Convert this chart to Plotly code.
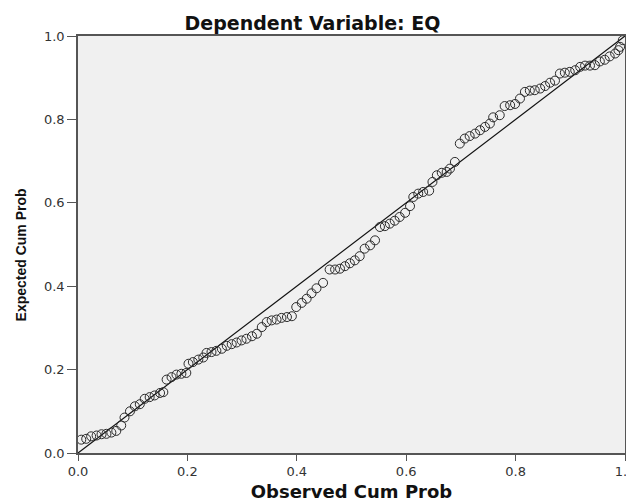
import plotly.graph_objects as go

# Observed cumulative probability (x) and expected cumulative probability (y)
observed_cum_prob = [
    0.006, 0.015, 0.024, 0.034, 0.043, 0.052, 0.061, 0.070, 0.079, 0.085,
    0.095, 0.104, 0.113, 0.122, 0.131, 0.140, 0.150, 0.156, 0.162, 0.171,
    0.180, 0.189, 0.198, 0.202, 0.210, 0.220, 0.229, 0.235, 0.244, 0.253,
    0.263, 0.272, 0.281, 0.290, 0.299, 0.308, 0.318, 0.327, 0.336, 0.345,
    0.354, 0.363, 0.372, 0.382, 0.391,
    0.399, 0.409, 0.418, 0.427, 0.436, 0.448, 0.460, 0.470, 0.479, 0.488,
    0.497, 0.506, 0.515, 0.524, 0.534, 0.543, 0.552, 0.561, 0.570, 0.579,
    0.588, 0.598, 0.607, 0.613, 0.622, 0.631, 0.642, 0.648, 0.656, 0.665,
    0.674, 0.680, 0.689,
    0.698, 0.707, 0.716, 0.726, 0.735, 0.744, 0.753, 0.759, 0.771, 0.780,
    0.790, 0.799, 0.808, 0.817, 0.826, 0.835, 0.845, 0.854, 0.863, 0.872,
    0.881, 0.890, 0.899, 0.909, 0.918, 0.927, 0.936, 0.945, 0.954, 0.963,
    0.972, 0.982, 0.988, 0.991, 0.996,
]
expected_cum_prob = [
    0.032, 0.034, 0.040, 0.042, 0.045, 0.046, 0.049, 0.053, 0.066, 0.085,
    0.100, 0.112, 0.117, 0.130, 0.134, 0.138, 0.144, 0.146, 0.176, 0.182,
    0.188, 0.190, 0.192, 0.214, 0.218, 0.224, 0.229, 0.240, 0.242, 0.245,
    0.250, 0.257, 0.261, 0.265, 0.270, 0.274, 0.280, 0.286, 0.302, 0.314,
    0.318, 0.320, 0.324, 0.326, 0.328,
    0.350, 0.360, 0.370, 0.383, 0.395, 0.408, 0.440, 0.440, 0.442, 0.448,
    0.455, 0.462, 0.472, 0.490, 0.498, 0.510, 0.542, 0.544, 0.550, 0.557,
    0.566, 0.576, 0.592, 0.614, 0.622, 0.626, 0.629, 0.650, 0.666, 0.672,
    0.674, 0.682, 0.698,
    0.742, 0.754, 0.760, 0.766, 0.774, 0.782, 0.790, 0.805, 0.810, 0.832,
    0.834, 0.837, 0.850, 0.866, 0.869, 0.870, 0.874, 0.880, 0.888, 0.893,
    0.910, 0.912, 0.914, 0.918, 0.926, 0.929, 0.929, 0.930, 0.939, 0.943,
    0.951, 0.958, 0.966, 0.974, 0.990,
]

# Reference diagonal
diag_x = [0.0, 1.0]
diag_y = [0.0, 1.0]

tick_vals = [0.0, 0.2, 0.4, 0.6, 0.8, 1.0]
tick_text = ["0.0", "0.2", "0.4", "0.6", "0.8", "1.0"]

WIDE = "DejaVu Sans, Verdana, sans-serif"
NARROW = "Liberation Sans, Arial, sans-serif"

fig = go.Figure()
fig.add_trace(go.Scatter(
    x=diag_x, y=diag_y, mode="lines",
    line=dict(color="#111111", width=1.2),
    showlegend=False, hoverinfo="skip",
))
fig.add_trace(go.Scatter(
    x=observed_cum_prob, y=expected_cum_prob, mode="markers",
    marker=dict(symbol="circle-open", size=9, color="#2a2a2a",
                line=dict(width=1, color="#2a2a2a")),
    showlegend=False, cliponaxis=False,
))

axis_common = dict(
    range=[0, 1], tickvals=tick_vals, ticktext=tick_text,
    showgrid=False, zeroline=False, automargin=False,
    showline=True, linecolor="#555555", linewidth=1.5, mirror=True,
    ticks="outside", tickwidth=1, tickcolor="#555555",
    tickfont=dict(family=WIDE, size=13, color="#333333"),
)

# The page body has an 8px margin; the figure runs slightly past the window's right edge
# so that the last x tick label is drawn and then cut by the window, as in the reference.
fig.update_layout(
    width=634, height=494,
    margin=dict(l=70, r=17, t=28, b=49),
    paper_bgcolor="white", plot_bgcolor="#f0f0f0",
    title=dict(text="<b>Dependent Variable: EQ</b>", x=0.4803,
               xanchor="center", y=0.9686, yanchor="middle",
               font=dict(family=WIDE, size=19, color="#111111")),
    xaxis=dict(**axis_common, ticklen=6,
               title=dict(text="<b>Observed Cum Prob</b>", standoff=12,
                          font=dict(family=WIDE, size=18, color="#111111"))),
    yaxis=dict(**axis_common, ticklen=9),
    annotations=[dict(
        text="<b>Expected Cum Prob</b>", textangle=-90,
        xref="paper", yref="paper", x=0, y=0.475,
        xanchor="center", yanchor="middle", xshift=-57.5, showarrow=False,
        font=dict(family=NARROW, size=14, color="#111111"),
    )],
)

fig.write_html("out.html")
